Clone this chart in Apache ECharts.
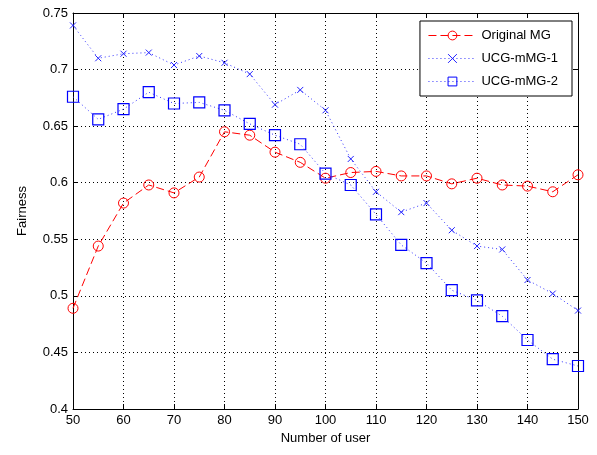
<!DOCTYPE html>
<html>
<head>
    <meta charset="utf-8">
    <script src="https://cdn.jsdelivr.net/npm/echarts@6/dist/echarts.min.js"></script>
</head>
<body style="margin:0; background:#fff">
<div id="main" style="width:597px; height:455px"></div>
<script type="text/javascript">
    var users = [50, 55, 60, 65, 70, 75, 80, 85, 90, 95, 100, 105, 110, 115, 120, 125, 130, 135, 140, 145, 150];
    var originalMG = [0.489, 0.544, 0.582, 0.598, 0.591, 0.605, 0.645, 0.642, 0.627, 0.618, 0.604, 0.609, 0.610, 0.606, 0.606, 0.599, 0.604, 0.598, 0.597, 0.592, 0.607];
    var ucgMMG1 = [0.739, 0.710, 0.714, 0.715, 0.704, 0.712, 0.706, 0.696, 0.669, 0.682, 0.664, 0.621, 0.592, 0.574, 0.582, 0.558, 0.544, 0.541, 0.514, 0.502, 0.487];
    var ucgMMG2 = [0.676, 0.656, 0.665, 0.680, 0.670, 0.671, 0.664, 0.652, 0.642, 0.634, 0.608, 0.598, 0.572, 0.545, 0.529, 0.505, 0.496, 0.482, 0.461, 0.444, 0.438];

    var font = 'Liberation Sans, Arial, sans-serif';
    var pair = function (ys) {
        return ys.map(function (y, i) { return [users[i], y]; });
    };
    var gridLine = { show: true, lineStyle: { color: '#000', type: [1, 3], width: 1 } };
    var frame = { show: true, onZero: false, lineStyle: { color: '#000', width: 1 } };
    var tick = { show: true, inside: true, length: 5, lineStyle: { color: '#000' } };
    var crossPath = 'path://M0,0L10,10M10,0L0,10';

    var myChart = echarts.init(document.getElementById('main'));
    var option = {
        animation: false,
        backgroundColor: '#fff',
        grid: { left: 73, right: 19, top: 13, bottom: 46 },
        legend: {
            orient: 'vertical',
            right: 25, top: 21,
            backgroundColor: '#fff',
            borderColor: '#000',
            borderWidth: 1,
            borderRadius: 0,
            padding: [8, 14, 8, 8],
            itemGap: 10,
            itemWidth: 48,
            itemHeight: 11,
            textStyle: { fontFamily: font, fontSize: 13, color: '#000' },
            data: [
                { name: 'Original MG', itemStyle: { borderWidth: 1 }, lineStyle: { width: 1 } },
                { name: 'UCG-mMG-1', itemStyle: { borderWidth: 1 }, lineStyle: { width: 1 } },
                { name: 'UCG-mMG-2', itemStyle: { borderWidth: 1 }, lineStyle: { width: 1 } }
            ]
        },
        xAxis: [{
            type: 'value', min: 50, max: 150, interval: 10,
            name: 'Number of user', nameLocation: 'middle', nameGap: 23,
            nameTextStyle: { fontFamily: font, fontSize: 13, color: '#000' },
            axisLine: frame, axisTick: tick, splitLine: gridLine,
            axisLabel: { fontFamily: font, fontSize: 13, color: '#000', margin: 5 }
        }, {
            type: 'value', position: 'top', min: 50, max: 150, interval: 10,
            axisLine: frame, axisTick: tick, splitLine: { show: false },
            axisLabel: { show: false }
        }],
        yAxis: [{
            type: 'value', min: 0.4, max: 0.75, interval: 0.05,
            name: 'Fairness', nameLocation: 'middle', nameGap: 44,
            nameTextStyle: { fontFamily: font, fontSize: 13, color: '#000' },
            axisLine: frame, axisTick: tick, splitLine: gridLine,
            axisLabel: {
                fontFamily: font, fontSize: 13, color: '#000', margin: 5,
                formatter: function (v) { return String(+v.toFixed(2)); }
            }
        }, {
            type: 'value', position: 'right', min: 0.4, max: 0.75, interval: 0.05,
            axisLine: frame, axisTick: tick, splitLine: { show: false },
            axisLabel: { show: false }
        }],
        series: [{
            name: 'Original MG', type: 'line', data: pair(originalMG),
            symbol: 'circle', symbolSize: 10,
            lineStyle: { color: '#ff0000', width: 1, type: [8, 4] },
            itemStyle: { color: 'rgba(0,0,0,0)', borderColor: '#ff0000', borderWidth: 1 }
        }, {
            name: 'UCG-mMG-1', type: 'line', data: pair(ucgMMG1),
            symbol: crossPath, symbolSize: 6,
            lineStyle: { color: '#3333ff', width: 1, type: [1, 3] },
            itemStyle: { color: 'rgba(0,0,0,0)', borderColor: '#2222ff', borderWidth: 1 }
        }, {
            name: 'UCG-mMG-2', type: 'line', data: pair(ucgMMG2),
            symbol: 'rect', symbolSize: 11,
            lineStyle: { color: '#3333ff', width: 1, type: [1, 3] },
            itemStyle: { color: 'rgba(0,0,0,0)', borderColor: '#0000ff', borderWidth: 1.2 }
        }]
    };
    myChart.setOption(option);
</script>
</body>
</html>
